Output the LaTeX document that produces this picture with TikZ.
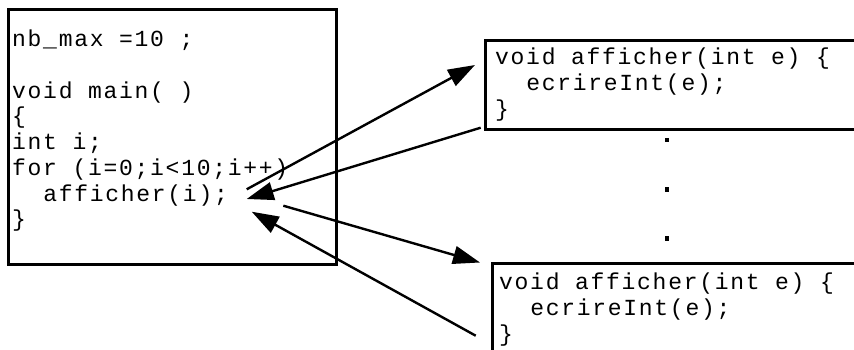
\documentclass[tikz,border=0pt]{standalone}
\usepackage{fontspec}
\setmonofont[LetterSpace=7.5]{Liberation Mono}
\usetikzlibrary{arrows.meta}
\tikzset{
  codebox/.style={draw, line width=2.6pt, inner sep=0pt},
  code/.style={font=\ttfamily\fontsize{23}{25.7}\selectfont, align=left, inner sep=0pt, anchor=north west},
  call/.style={line width=2.4pt, -{Triangle[length=27pt,width=18pt]}},
  dot/.style={fill, inner sep=0pt, minimum size=4.5pt}
}
\begin{document}
\begin{tikzpicture}[x=1pt,y=-1pt]
\useasboundingbox (0,0) rectangle (854,349);
\clip (0,0) rectangle (854,349);
% boxes
\node[codebox, anchor=north west, minimum width=328pt, minimum height=255pt] (mainbox) at (7,8) {};
\node[codebox, anchor=north west, minimum width=400pt, minimum height=89pt] (topbox) at (484,39) {};
\node[codebox, anchor=north west, minimum width=400pt, minimum height=120pt] (botbox) at (491,262) {};
% texts
\node[code] (maintext) at (12,30) {nb\_max =10 ;\\[25.7pt]void main( )\\\{\\int i;\\for (i=0;i<10;i++)\\\ \ afficher(i);\\\}};
\node[code] (toptext) at (495,48) {void afficher(int e) \{\\\ \ ecrireInt(e);\\\}};
\node[code] (bottext) at (499,273) {void afficher(int e) \{\\\ \ ecrireInt(e);\\\}};
% dots
\node[dot] (d1) at (667,140) {};
\node[dot] (d2) at (667,189.5) {};
\node[dot] (d3) at (667,238.5) {};
% connector ends
\coordinate (s1) at (246.7,189.3);
\coordinate (e1) at (475,65);
\coordinate (s2) at (480.7,127.7);
\coordinate (e2) at (246.7,199);
\coordinate (s3) at (283.3,205.7);
\coordinate (e3) at (480,262.5);
\coordinate (s4) at (475.7,335.7);
\coordinate (e4) at (251.7,211.7);
\draw[call] (s1) -- (e1);
\draw[call] (s2) -- (e2);
\draw[call] (s3) -- (e3);
\draw[call] (s4) -- (e4);
\end{tikzpicture}
\end{document}
